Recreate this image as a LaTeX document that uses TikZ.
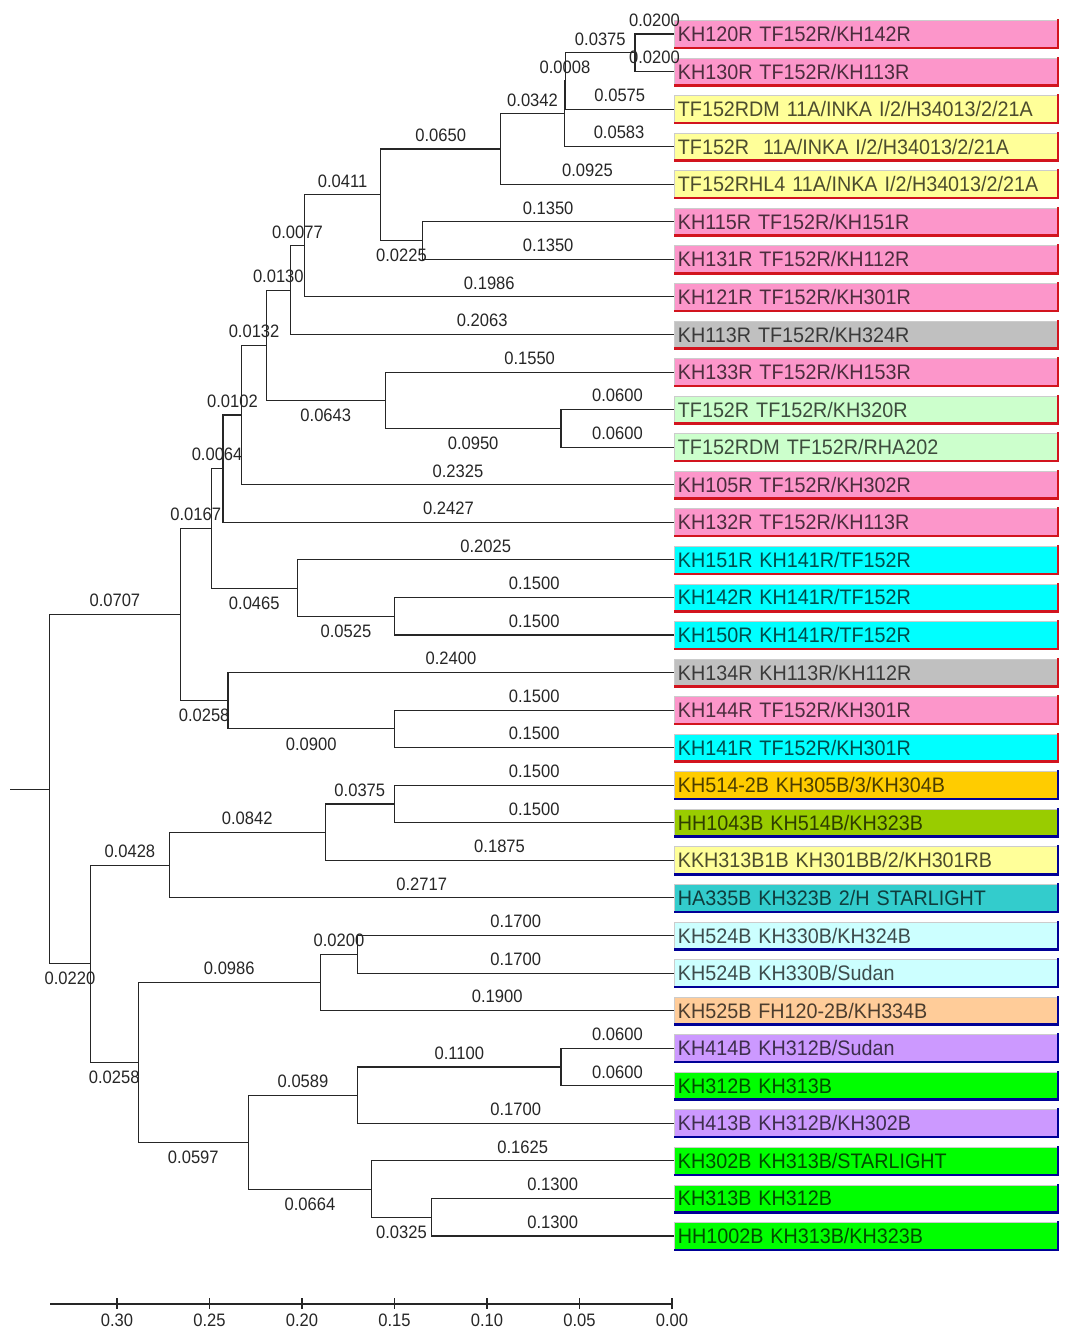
\documentclass[tikz,border=0pt]{standalone}
\usepackage{fontspec}
\setmainfont{Liberation Sans}
\newfontfamily\lenfont[FakeStretch=0.92]{Liberation Sans}
\newfontfamily\leaffont[FakeStretch=0.94]{Liberation Sans}

\definecolor{cpink}{RGB}{252,150,202}
\definecolor{cyellow}{RGB}{255,255,153}
\definecolor{cgray}{RGB}{192,192,192}
\definecolor{cmint}{RGB}{204,255,204}
\definecolor{ccyan}{RGB}{0,255,255}
\definecolor{corange}{RGB}{255,204,0}
\definecolor{colive}{RGB}{153,204,0}
\definecolor{cteal}{RGB}{51,204,204}
\definecolor{cice}{RGB}{204,255,255}
\definecolor{cpeach}{RGB}{255,204,153}
\definecolor{clilac}{RGB}{204,153,255}
\definecolor{cgreen}{RGB}{0,255,0}
\definecolor{redge}{RGB}{210,20,30}
\definecolor{bedge}{RGB}{0,0,150}

% x position of a node at a given height
\newcommand{\hx}[1]{672-1850*#1}

\begin{document}
\begin{tikzpicture}[x=1pt, y=-1pt,
    branch/.style={draw=black!85, line width=1.1pt},
    lenfont/.style={pos=0.75, inner sep=0pt, text=black!85,
      font=\lenfont\fontsize{18}{18}\selectfont},
    lenup/.style={lenfont, above=7pt},
    lendown/.style={lenfont, below=8pt},
    leafbox/.style={anchor=west, minimum height=27pt, text width=376pt,
      inner xsep=3.5pt, inner ysep=0pt, text height=15pt, text depth=0pt,
      draw=gray!40, line width=0.8pt,
      font=\leaffont\fontsize{21}{21}\selectfont},
    ticklab/.style={inner sep=0pt, text=black!85,
      font=\lenfont\fontsize{18}{18}\selectfont}]

    % Page
    \fill[white] (0,0) rectangle (1065,1338);
    \useasboundingbox (0,0) rectangle (1065,1338);

    % Leaves with coloured boxes
    \foreach \i/\txt/\col/\edge in {
        1/{KH120R TF152R/KH142R}/cpink/redge,
        2/{KH130R TF152R/KH113R}/cpink/redge,
        3/{TF152RDM 11A/INKA I/2/H34013/2/21A}/cyellow/redge,
        4/{TF152R\ \ 11A/INKA I/2/H34013/2/21A}/cyellow/redge,
        5/{TF152RHL4 11A/INKA I/2/H34013/2/21A}/cyellow/redge,
        6/{KH115R TF152R/KH151R}/cpink/redge,
        7/{KH131R TF152R/KH112R}/cpink/redge,
        8/{KH121R TF152R/KH301R}/cpink/redge,
        9/{KH113R TF152R/KH324R}/cgray/redge,
        10/{KH133R TF152R/KH153R}/cpink/redge,
        11/{TF152R TF152R/KH320R}/cmint/redge,
        12/{TF152RDM TF152R/RHA202}/cmint/redge,
        13/{KH105R TF152R/KH302R}/cpink/redge,
        14/{KH132R TF152R/KH113R}/cpink/redge,
        15/{KH151R KH141R/TF152R}/ccyan/redge,
        16/{KH142R KH141R/TF152R}/ccyan/redge,
        17/{KH150R KH141R/TF152R}/ccyan/redge,
        18/{KH134R KH113R/KH112R}/cgray/redge,
        19/{KH144R TF152R/KH301R}/cpink/redge,
        20/{KH141R TF152R/KH301R}/ccyan/redge,
        21/{KH514-2B KH305B/3/KH304B}/corange/bedge,
        22/{HH1043B KH514B/KH323B}/colive/bedge,
        23/{KKH313B1B KH301BB/2/KH301RB}/cyellow/bedge,
        24/{HA335B KH323B 2/H STARLIGHT}/cteal/bedge,
        25/{KH524B KH330B/KH324B}/cice/bedge,
        26/{KH524B KH330B/Sudan}/cice/bedge,
        27/{KH525B FH120-2B/KH334B}/cpeach/bedge,
        28/{KH414B KH312B/Sudan}/clilac/bedge,
        29/{KH312B KH313B}/cgreen/bedge,
        30/{KH413B KH312B/KH302B}/clilac/bedge,
        31/{KH302B KH313B/STARLIGHT}/cgreen/bedge,
        32/{KH313B KH312B}/cgreen/bedge,
        33/{HH1002B KH313B/KH323B}/cgreen/bedge} {
      \pgfmathsetmacro{\ly}{34+(\i-1)*37.5625}
      \node[leafbox, fill=\col, text=\col!30!black] (l\i) at (674,\ly) {\txt};
      \draw[\edge, line width=2.5pt] (l\i.south west) -| ([yshift=1pt]l\i.north east);
    }

    % Internal nodes (height, y)
    \coordinate (A)  at ({\hx{0.0200}}, 52.78);
    \coordinate (B)  at ({\hx{0.0575}}, 80.95);
    \coordinate (C)  at ({\hx{0.0583}}, 113.82);
    \coordinate (D)  at ({\hx{0.0925}}, 149.04);
    \coordinate (E)  at ({\hx{0.1350}}, 240.59);
    \coordinate (F)  at ({\hx{0.1575}}, 194.82);
    \coordinate (G)  at ({\hx{0.1986}}, 245.88);
    \coordinate (H)  at ({\hx{0.2063}}, 290.19);
    \coordinate (I)  at ({\hx{0.0600}}, 428.41);
    \coordinate (J)  at ({\hx{0.1550}}, 400.24);
    \coordinate (K)  at ({\hx{0.2193}}, 345.21);
    \coordinate (L)  at ({\hx{0.2325}}, 414.98);
    \coordinate (M)  at ({\hx{0.2427}}, 468.65);
    \coordinate (N1) at ({\hx{0.1500}}, 616.22);
    \coordinate (N2) at ({\hx{0.2025}}, 588.05);
    \coordinate (O)  at ({\hx{0.2491}}, 528.35);
    \coordinate (P1) at ({\hx{0.1500}}, 728.91);
    \coordinate (P2) at ({\hx{0.2400}}, 700.74);
    \coordinate (Q)  at ({\hx{0.2658}}, 614.54);
    \coordinate (S1) at ({\hx{0.1500}}, 804.03);
    \coordinate (S2) at ({\hx{0.1875}}, 832.20);
    \coordinate (S3) at ({\hx{0.2717}}, 865.07);
    \coordinate (T1) at ({\hx{0.1700}}, 954.28);
    \coordinate (T2) at ({\hx{0.1900}}, 982.45);
    \coordinate (U1) at ({\hx{0.0600}}, 1066.97);
    \coordinate (U2) at ({\hx{0.1700}}, 1095.14);
    \coordinate (V1) at ({\hx{0.1300}}, 1217.22);
    \coordinate (V2) at ({\hx{0.1625}}, 1189.05);
    \coordinate (W)  at ({\hx{0.2289}}, 1142.10);
    \coordinate (X)  at ({\hx{0.2886}}, 1062.27);
    \coordinate (Y)  at ({\hx{0.3144}}, 963.67);
    \coordinate (R)  at ({\hx{0.3365}}, 789.10);
    \coordinate (stub) at (10, 789.10);

    % Branches with their lengths
    \foreach \p/\c/\len/\side in {
        A/l1/0.0200/up, A/l2/0.0200/up,
        B/A/0.0375/up, B/l3/0.0575/up,
        C/B/0.0008/up, C/l4/0.0583/up,
        D/C/0.0342/up, D/l5/0.0925/up,
        E/l6/0.1350/up, E/l7/0.1350/up,
        F/D/0.0650/up, F/E/0.0225/down,
        G/F/0.0411/up, G/l8/0.1986/up,
        H/G/0.0077/up, H/l9/0.2063/up,
        I/l11/0.0600/up, I/l12/0.0600/up,
        J/l10/0.1550/up, J/I/0.0950/down,
        K/H/0.0130/up, K/J/0.0643/down,
        L/K/0.0132/up, L/l13/0.2325/up,
        M/L/0.0102/up, M/l14/0.2427/up,
        N1/l16/0.1500/up, N1/l17/0.1500/up,
        N2/l15/0.2025/up, N2/N1/0.0525/down,
        O/M/0.0064/up, O/N2/0.0465/down,
        P1/l19/0.1500/up, P1/l20/0.1500/up,
        P2/l18/0.2400/up, P2/P1/0.0900/down,
        Q/O/0.0167/up, Q/P2/0.0258/down,
        S1/l21/0.1500/up, S1/l22/0.1500/up,
        S2/S1/0.0375/up, S2/l23/0.1875/up,
        S3/S2/0.0842/up, S3/l24/0.2717/up,
        T1/l25/0.1700/up, T1/l26/0.1700/up,
        T2/T1/0.0200/up, T2/l27/0.1900/up,
        U1/l28/0.0600/up, U1/l29/0.0600/up,
        U2/U1/0.1100/up, U2/l30/0.1700/up,
        V1/l32/0.1300/up, V1/l33/0.1300/up,
        V2/l31/0.1625/up, V2/V1/0.0325/down,
        W/U2/0.0589/up, W/V2/0.0664/down,
        X/T2/0.0986/up, X/W/0.0597/down,
        Y/S3/0.0428/up, Y/X/0.0258/down,
        R/Q/0.0707/up, R/Y/0.0220/down} {
      \draw[branch] (\p) |- node[len\side] {\len} (\c);
    }
    \draw[branch] (R) -- (stub);

    % Scale axis
    \coordinate (axl) at (50,1304);
    \coordinate (axr) at (672,1304);
    \draw[branch] (axl) -- (axr);
    \foreach \v/\t in {0/0.00, 1/0.05, 2/0.10, 3/0.15, 4/0.20, 5/0.25, 6/0.30} {
      \draw[branch] ({672-92.5*\v},1298) -- ({672-92.5*\v},1309);
      \node[ticklab] (t\v) at ({672-92.5*\v},1320) {\t};
    }
\end{tikzpicture}
\end{document}
